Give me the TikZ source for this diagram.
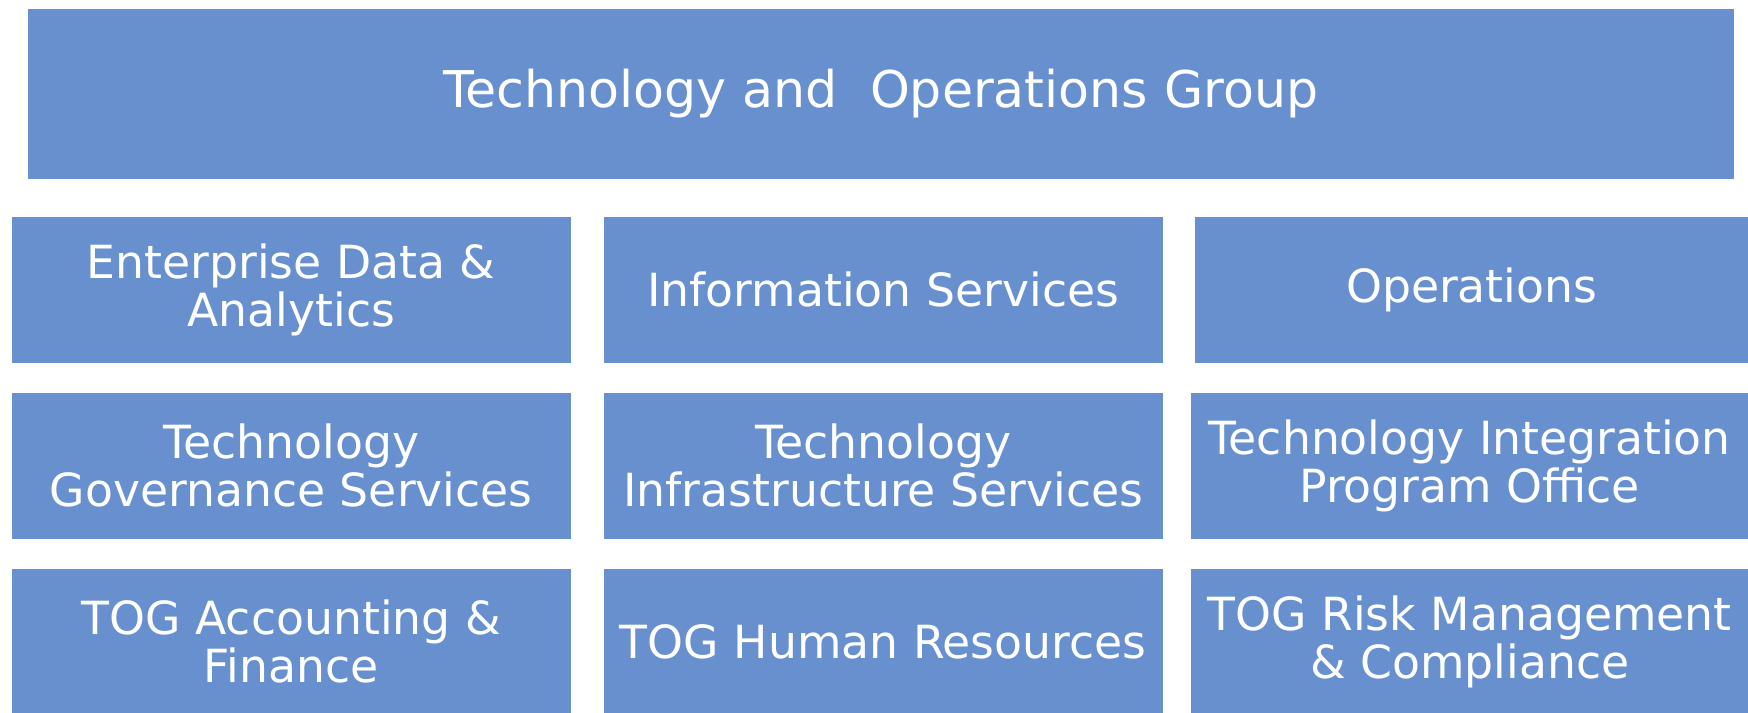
\documentclass[tikz,border=0pt]{standalone}
\usepackage{fontspec}
\setmainfont{DejaVu Sans}
\usepackage{xcolor}
\usetikzlibrary{positioning}
\definecolor{togblue}{HTML}{6890CF}

\begin{document}
\begin{tikzpicture}[x=0.1mm, y=-0.1mm,
  unit/.style={fill=togblue, text=white, inner sep=0pt, anchor=north west, align=center,
    font=\fontsize{13.0}{13.7}\selectfont},
  headbox/.style={unit, font=\fontsize{14.4}{16}\selectfont}]
\useasboundingbox (0,0) rectangle (1748,712);
\fill[white] (0,0) rectangle (1748,712);
% top bar
\node[headbox, minimum width=170.6mm, minimum height=17.0mm] (tog) at (27,8) {Technology and\ \ Operations Group};
% first row
\node[unit, minimum width=55.9mm, minimum height=14.6mm] (eda) at (11,216) {Enterprise Data \&\\Analytics};
\node[unit, minimum width=55.9mm, minimum height=14.6mm] (is) at (603,216) {Information Services};
\node[unit, minimum width=55.4mm, minimum height=14.6mm] (ops) at (1194,216) {Operations};
% second row
\node[unit, minimum width=55.9mm, minimum height=14.6mm] (tgs) at (11,392) {Technology\\Governance Services};
\node[unit, minimum width=55.9mm, minimum height=14.6mm] (tis) at (603,392) {Technology\\Infrastructure Services};
\node[unit, minimum width=55.8mm, minimum height=14.6mm] (tipo) at (1190,392) {Technology Integration\\Program Office};
% third row
\node[unit, minimum width=55.9mm, minimum height=14.6mm] (taf) at (11,568) {TOG Accounting \&\\Finance};
\node[unit, minimum width=55.9mm, minimum height=14.6mm] (thr) at (603,568) {TOG Human Resources};
\node[unit, minimum width=55.8mm, minimum height=14.6mm] (trm) at (1190,568) {TOG Risk Management\\\& Compliance};
\end{tikzpicture}
\end{document}
